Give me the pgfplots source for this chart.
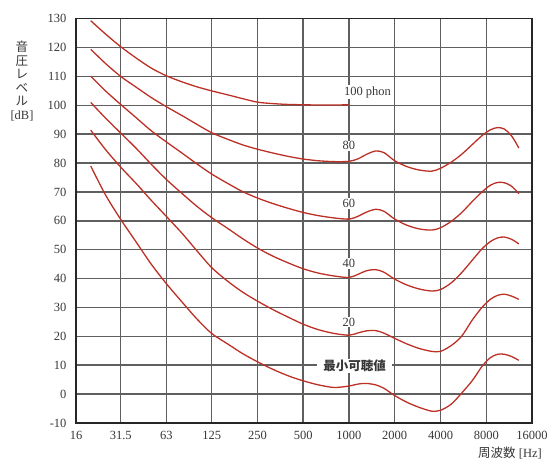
\documentclass[border=0pt]{standalone}
\usepackage{fontspec}
\setmainfont{Liberation Serif}
\newfontfamily\jp{Noto Sans CJK JP}
\usepackage{pgfplots}
\pgfplotsset{compat=1.18}
\definecolor{curve}{RGB}{188,48,38}
\definecolor{gridc}{RGB}{95,95,95}
\definecolor{txt}{RGB}{55,55,55}
\tikzset{cv/.style={curve, line width=1.3bp, smooth, tension=0.5, mark=none}}
\begin{document}
\begin{tikzpicture}[x=1bp,y=1bp]
\path[use as bounding box] (-76,-40) rectangle (475,423);
\begin{axis}[
  at={(0,0)}, anchor=south west,
  scale only axis, width=456bp, height=404.3bp,
  xmode=log, xmin=16, xmax=16000, ymin=-10, ymax=130,
  xtick={16,31.5,63,125,250,500,1000,2000,4000,8000,16000},
  xticklabels={16,31.5,63,125,250,500,1000,2000,4000,8000,16000},
  ytick={-10,0,10,20,30,40,50,60,70,80,90,100,110,120,130},
  grid=major, major grid style={gridc, line width=1.5bp},
  axis line style={black!85, line width=1.4bp},
  major tick length=0pt, minor tick num=0,
  tick label style={font=\fontsize{12.5bp}{15bp}\selectfont, text=txt},
  /pgf/number format/assume math mode=true,
  yticklabel style={xshift=-6bp},
  xticklabel style={yshift=-5bp},
]
% 100 phon
\addplot[cv] coordinates {
 (20,129.3) (25,124.7) (31.5,120.3) (40,116.3) (50,112.9) (63,110.2) (80,108.1) (100,106.4) (125,105) (160,103.6) (200,102.3) (250,101.1) (315,100.6) (400,100.3) (500,100.2) (630,100.1) (800,100.1) (1000,100.2)};
% 80 phon
\addplot[cv] coordinates {
 (20,119.4) (25,114.5) (31.5,110) (40,106.2) (50,102.7) (63,99.5) (80,96.4) (100,93.4) (125,90.5) (160,88.2) (200,86.3) (250,84.8) (315,83.5) (400,82.3) (500,81.4) (630,80.8) (800,80.5)
 (1000,80.6) (1150,81.5) (1300,83) (1500,84.2) (1700,83.6) (2000,80.8) (2400,78.8) (2900,77.6) (3500,77.2) (4000,78.2) (4700,80.3) (5500,83) (6500,86.5) (7500,89.5) (8500,91.5) (9500,92.3) (10500,91.8) (11500,90) (12300,87.8) (13100,85.2)};
% 60 phon
\addplot[cv] coordinates {
 (20,110.1) (25,105.0) (31.5,100.3) (40,95.6) (50,91.2) (63,87.3) (80,83.4) (100,79.7) (125,76.2) (160,72.9) (200,70.1) (250,67.9) (315,66.0) (400,64.3) (500,62.9) (630,61.8) (800,61.0)
 (1000,60.6) (1150,61.6) (1300,63) (1500,64) (1700,63.3) (2000,60.6) (2400,58.5) (2900,57.2) (3500,56.8) (4000,57.6) (4700,59.8) (5500,62.8) (6500,66.8) (7500,70) (8500,72.3) (9500,73.3) (10500,73.2) (11500,72.3) (12300,71) (13100,69.4)};
% 40 phon
\addplot[cv] coordinates {
 (20,101) (25,95.6) (31.5,90.4) (40,85) (50,79.6) (63,74.3) (80,69.4) (100,65) (125,61.1) (160,57.3) (200,53.8) (250,50.6) (315,47.8) (400,45.4) (500,43.4) (630,41.9) (800,40.9)
 (1000,40.4) (1150,41.5) (1300,42.7) (1500,43.1) (1700,42.2) (2000,39.8) (2400,37.8) (2900,36.4) (3500,35.7) (4000,36.2) (4700,38.5) (5500,42) (6500,46.5) (7500,50.3) (8500,52.8) (9500,54.1) (10500,54.4) (11500,53.8) (12300,53) (13100,52)};
% 20 phon
\addplot[cv] coordinates {
 (20,91.4) (25,84.7) (31.5,78.6) (40,72.8) (50,67.1) (63,61.5) (80,55.6) (100,49.6) (125,43.8) (160,39.0) (200,35.3) (250,32.2) (315,29.3) (400,26.6) (500,24.2) (630,22.3) (800,21.0)
 (1000,20.4) (1150,21.2) (1300,21.9) (1500,22) (1700,21.1) (2000,19.3) (2400,17.4) (2900,15.8) (3500,14.8) (4000,14.8) (4700,16.8) (5500,20) (6500,25.8) (7500,30) (8500,32.8) (9500,34.2) (10500,34.6) (11500,34.1) (12300,33.5) (13100,32.8)};
% threshold
\addplot[cv] coordinates {
 (20,79) (25,69) (31.5,60.5) (40,52.5) (50,45) (63,38.2) (80,31.8) (100,26) (125,21) (160,17.3) (200,14) (250,11.2) (315,8.6) (400,6.3) (500,4.6) (630,3.2) (800,2.3)
 (1000,2.8) (1150,3.5) (1300,3.7) (1500,3.2) (1700,2) (2000,-0.5) (2400,-2.8) (2900,-4.6) (3500,-5.9) (4000,-5.6) (4700,-3.5) (5500,0.3) (6500,4.8) (7500,9.6) (8500,12.6) (9500,13.8) (10500,13.8) (11500,13.2) (12300,12.5) (13100,11.7)};
\node[fill=white, inner sep=1.5bp, anchor=west, text=txt, font=\fontsize{12.5bp}{15bp}\selectfont] at (axis cs:905,104.5) {100 phon};
\node[fill=white, inner sep=1bp, text=txt, font=\fontsize{12.5bp}{15bp}\selectfont] at (axis cs:1000,86) {80};
\node[fill=white, inner sep=1bp, text=txt, font=\fontsize{12.5bp}{15bp}\selectfont] at (axis cs:1000,66) {60};
\node[fill=white, inner sep=1bp, text=txt, font=\fontsize{12.5bp}{15bp}\selectfont] at (axis cs:1000,45.2) {40};
\node[fill=white, inner sep=1bp, text=txt, font=\fontsize{12.5bp}{15bp}\selectfont] at (axis cs:1000,25) {20};
\node[fill=white, inner xsep=6bp, inner ysep=1bp, text=txt, font=\jp\bfseries\fontsize{12.5bp}{15bp}\selectfont] at (axis cs:1090,9.8) {最小可聴値};
\end{axis}
\node[align=center, text=txt, font=\fontsize{12.5bp}{13.6bp}\selectfont] at (-54,342) {{\jp 音}\\{\jp 圧}\\{\jp レ}\\{\jp ベ}\\{\jp ル}\\{[dB]}};
\node[text=txt, font=\fontsize{12.5bp}{15bp}\selectfont] at (434,-29.7) {{\jp 周波数} [Hz]};
\end{tikzpicture}
\end{document}
